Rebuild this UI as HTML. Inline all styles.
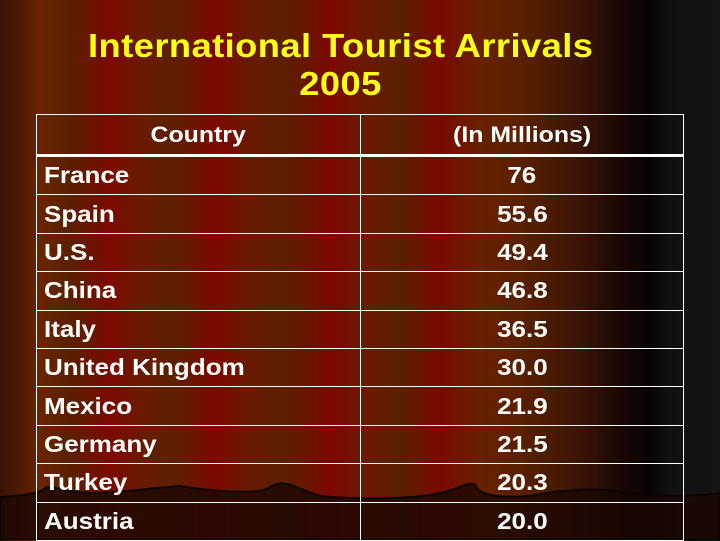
<!DOCTYPE html>
<html><head><meta charset="utf-8">
<style>
html,body{margin:0;padding:0}
body{width:720px;height:540px;overflow:hidden;position:relative;font-family:"Liberation Sans",Arial,sans-serif;
background:linear-gradient(90deg,#3a1404 0,#4e1a04 20px,#6a2400 40px,#5a2000 70px,#7c0a00 110px,#6a1a00 140px,#5c2000 175px,#7e0800 215px,#6a1800 245px,#5a2000 285px,#7c0800 330px,#6a1a00 365px,#5a2000 400px,#7a0a00 440px,#682000 480px,#5a2000 520px,#3a1406 580px,#1a0804 620px,#080404 650px,#111 670px,#141414 720px);}
.title{position:absolute;left:0;width:682px;text-align:center;color:#ffff1a;font-weight:bold;font-size:33px;letter-spacing:0.4px;line-height:38px;top:27px}
.title span{display:inline-block;transform:scaleX(1.1)}
.bottom{position:absolute;left:0;top:0}
table{position:absolute;left:36px;top:114px;width:648px;border-collapse:collapse;color:#fff;font-weight:bold}
td,th{border:1.5px solid #fff;height:37.4px;padding:0;font-size:23px}
th{font-size:22px;height:39px;border-bottom:3px solid #fff}
td span,th span{display:inline-block;transform:scaleX(1.13);transform-origin:center}
td.c span{transform-origin:left}
td.c{padding-left:7px;text-align:left}
td.v{text-align:center}
</style></head><body>
<svg class="bottom" width="720" height="540">
<path d="M0 497 C20 496 40 494 45 488 C52 484 60 492 90 493 C120 493 150 488 180 486 C200 490 260 496 270 487 C285 478 295 488 320 496 C360 500 400 499 430 495 C460 490 470 480 475 485 C480 496 500 498 530 496 C560 490 590 487 620 492 C650 497 690 497 720 493 L720 540 L0 540 Z" fill="rgba(25,6,2,0.78)" stroke="#0a0402" stroke-width="2"/>
</svg>
<div class="title"><span>International Tourist Arrivals</span><br><span>2005</span></div>
<table>
<tr><th style="width:323px"><span>Country</span></th><th><span>(In Millions)</span></th></tr>
<tr><td class="c"><span>France</span></td><td class="v"><span>76</span></td></tr>
<tr><td class="c"><span>Spain</span></td><td class="v"><span>55.6</span></td></tr>
<tr><td class="c"><span>U.S.</span></td><td class="v"><span>49.4</span></td></tr>
<tr><td class="c"><span>China</span></td><td class="v"><span>46.8</span></td></tr>
<tr><td class="c"><span>Italy</span></td><td class="v"><span>36.5</span></td></tr>
<tr><td class="c"><span>United Kingdom</span></td><td class="v"><span>30.0</span></td></tr>
<tr><td class="c"><span>Mexico</span></td><td class="v"><span>21.9</span></td></tr>
<tr><td class="c"><span>Germany</span></td><td class="v"><span>21.5</span></td></tr>
<tr><td class="c"><span>Turkey</span></td><td class="v"><span>20.3</span></td></tr>
<tr><td class="c"><span>Austria</span></td><td class="v"><span>20.0</span></td></tr>
</table>
</body></html>
